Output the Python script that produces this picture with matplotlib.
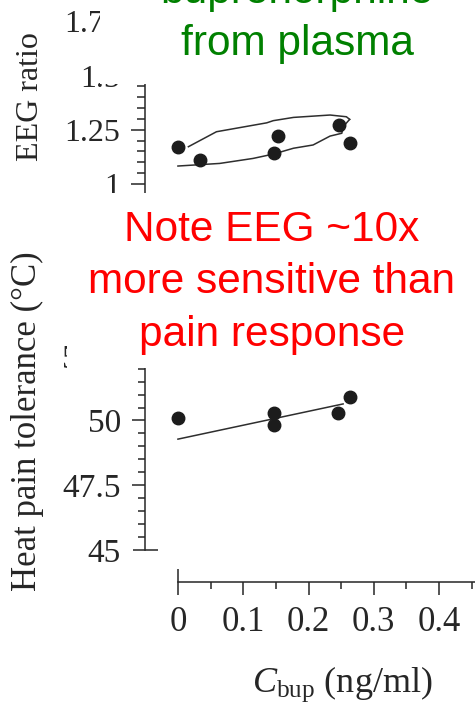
import matplotlib
matplotlib.use("Agg")
import matplotlib.pyplot as plt
from matplotlib.patches import Rectangle
from matplotlib.ticker import MultipleLocator, FixedLocator

plt.rcParams['font.family'] = ['Liberation Serif', 'DejaVu Serif']
plt.rcParams['mathtext.fontset'] = 'custom'
plt.rcParams['mathtext.rm'] = 'Liberation Serif'
plt.rcParams['mathtext.it'] = 'Liberation Serif:italic'

# ---- data ----
eeg_conc = [0.0, 0.034, 0.147, 0.154, 0.247, 0.263]
eeg_ratio = [1.172, 1.111, 1.141, 1.221, 1.272, 1.188]
loop_upper_conc = [0.016, 0.059, 0.136, 0.146, 0.177, 0.233, 0.258, 0.263]
loop_upper_ratio = [1.172, 1.241, 1.282, 1.292, 1.307, 1.318, 1.310, 1.298]
loop_lower_conc = [0.0, 0.064, 0.115, 0.146, 0.177, 0.207, 0.233, 0.251, 0.253, 0.263]
loop_lower_ratio = [1.083, 1.095, 1.118, 1.138, 1.165, 1.180, 1.221, 1.234, 1.264, 1.298]
eeg_ticks = [1, 1.25, 1.5, 1.75]
eeg_tick_labels = ["1", "1.25", "1.5", "1.75"]

pain_conc = [0.0, 0.147, 0.147, 0.245, 0.263]
pain_tol = [50.10, 50.29, 49.81, 50.29, 50.90]
fit_conc = [0.0, 0.253]
fit_tol = [49.28, 50.64]
pain_ticks = [45, 47.5, 50, 52.5]
pain_tick_labels = ["45", "47.5", "50", "52.5"]
pain_minor = [45.5, 46, 46.5, 47, 48, 48.5, 49, 49.5, 50.5, 51, 51.5, 52, 53]
conc_ticks = [0, 0.1, 0.2, 0.3, 0.4]
conc_tick_labels = ["0", "0.1", "0.2", "0.3", "0.4"]
conc_minor = [0.05, 0.15, 0.25, 0.35, 0.45]

W, H = 475, 707
fig = plt.figure(figsize=(W / 100, H / 100), dpi=100)
fig.patch.set_facecolor('white')

ink = '#262626'
dot = '#1c1c1c'

def fx(px):
    return px / W

def fy(py):
    return 1 - py / H

# ---- top panel (EEG ratio) ----
axL = 145.3
ax1 = fig.add_axes([fx(axL), fy(194.9), fx(W - axL), (194.9 - 10.4) / H])
ax1.set_xlim(-0.05, 0.455)
ax1.set_ylim(0.95, 1.8)
for s in ['top', 'right', 'bottom']:
    ax1.spines[s].set_visible(False)
ax1.spines['left'].set_color(ink)
ax1.spines['left'].set_linewidth(1.1)
ax1.set_xticks([])
ax1.yaxis.set_major_locator(FixedLocator(eeg_ticks))
ax1.set_yticklabels(eeg_tick_labels)
ax1.yaxis.set_minor_locator(MultipleLocator(0.05))
ax1.tick_params(axis='y', which='major', direction='out', length=10, width=1.1,
                color=ink, labelcolor=ink, labelsize=23, pad=8)
ax1.tick_params(axis='y', which='minor', direction='out', length=5.5, width=1.1, color=ink)
ax1.plot(loop_upper_conc, loop_upper_ratio, color='#2e2e2e', lw=1.1)
ax1.plot(loop_lower_conc, loop_lower_ratio, color='#2e2e2e', lw=1.1)
ax1.plot(eeg_conc, eeg_ratio, 'o', color=dot, ms=9, zorder=3)

# ---- bottom panel (heat pain tolerance) ----
ax2 = fig.add_axes([fx(axL), fy(582), fx(W - axL), (582 - 353.2) / H])
ax2.set_xlim(-0.05, 0.455)
ax2.set_ylim(43.76, 52.6)
for s in ['top', 'right']:
    ax2.spines[s].set_visible(False)
for s in ['left', 'bottom']:
    ax2.spines[s].set_color(ink)
    ax2.spines[s].set_linewidth(1.1)
ax2.spines['left'].set_bounds(45, 52.6)
ax2.spines['bottom'].set_bounds(0, 0.455)
ax2.yaxis.set_major_locator(FixedLocator(pain_ticks))
ax2.set_yticklabels(pain_tick_labels)
ax2.yaxis.set_minor_locator(FixedLocator(pain_minor))
ax2.xaxis.set_major_locator(FixedLocator(conc_ticks))
ax2.set_xticklabels(conc_tick_labels)
ax2.xaxis.set_minor_locator(FixedLocator(conc_minor))
ax2.tick_params(axis='both', which='major', direction='out', length=9.5, width=1.1,
                color=ink, labelcolor=ink)
ax2.tick_params(axis='y', which='major', pad=8, labelsize=24)
ax2.tick_params(axis='x', which='major', pad=8, labelsize=25)
ax2.tick_params(axis='both', which='minor', direction='out', length=5, width=1.1, color=ink)
# end ticks crossing the spines
t0 = ax2.xaxis.get_major_ticks()[0]
t0.tick1line.set_marker('|')
t0.tick1line.set_markersize(19)
t45 = ax2.yaxis.get_major_ticks()[0]
t45.tick1line.set_marker('_')
t45.tick1line.set_markersize(18)

ax2.plot(fit_conc, fit_tol, color='#2e2e2e', lw=1.1)
ax2.plot(pain_conc, pain_tol, 'o', color=dot, ms=9, zorder=3)

# axis labels
fig.text(fx(31), fy(97), "EEG ratio", rotation=90, ha='center', va='center',
         fontsize=23, color=ink)
fig.text(fx(27), fy(421), "Heat pain tolerance (°C)", rotation=90, ha='center',
         va='center', fontsize=25, color=ink)
fig.text(fx(342), fy(684), r"$C_{\mathrm{bup}}$ (ng/ml)", ha='center', va='center',
         fontsize=26, color=ink)

# ---- overlaid annotation boxes ----
fig.add_artist(Rectangle((fx(100), fy(84)), fx(W - 100), 84 / H, transform=fig.transFigure,
                         facecolor='white', edgecolor='none', zorder=10))
fig.add_artist(Rectangle((fx(67), fy(368)), fx(W - 67), (368 - 193) / H, transform=fig.transFigure,
                         facecolor='white', edgecolor='none', zorder=10))

sans = ['Liberation Sans', 'DejaVu Sans']
fig.text(fx(297), fy(55), "buprenorphine\nfrom plasma", ha='center', va='baseline',
         multialignment='center', fontsize=30.5, color='#008000', family=sans,
         linespacing=1.4, zorder=11)
fig.text(fx(272), fy(210), "Note EEG ~10x\nmore sensitive than\npain response", ha='center',
         va='top', multialignment='center', fontsize=30.5, color='#ff0000', family=sans,
         linespacing=1.4, zorder=11)

fig.savefig("out.png", dpi=100, facecolor='white')
